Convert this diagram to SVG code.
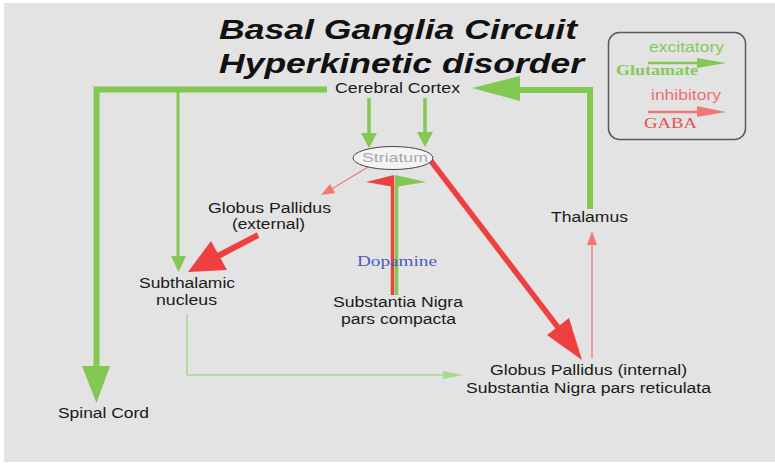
<svg xmlns="http://www.w3.org/2000/svg" width="775" height="467" viewBox="0 0 775 467">
<style>
.t{font-family:"Liberation Sans",Arial,sans-serif;font-size:14px;fill:#1a1a1a;text-anchor:middle}
.title{font-family:"Liberation Sans",Arial,sans-serif;font-size:27px;font-weight:bold;font-style:italic;fill:#111;text-anchor:middle}
.serif{font-family:"Liberation Serif","Times New Roman",serif;font-size:14px;text-anchor:middle}
.g{stroke:#82c852;fill:none}
.gf{fill:#82c852}
.r{stroke:#ee4040;fill:none}
.rf{fill:#ee4040}
.lr{stroke:#f27878;fill:none}
.lrf{fill:#f27878}
.lg{stroke:#a6d98a;fill:none}
.lgf{fill:#a6d98a}
</style>
<rect width="775" height="467" fill="#ffffff"/>
<rect x="4" y="3" width="771" height="459" fill="#e3e3e3"/>

<g id="title">
<text class="title" x="398" y="39" textLength="358" lengthAdjust="spacingAndGlyphs">Basal Ganglia Circuit</text>
<text class="title" x="401.5" y="73" textLength="365" lengthAdjust="spacingAndGlyphs">Hyperkinetic disorder</text>
</g>

<g id="legend">
<rect x="608.5" y="32.5" width="137" height="107" rx="11" fill="none" stroke="#5a5a5a" stroke-width="1.5"/>
<text class="t" x="686.5" y="52" textLength="75" lengthAdjust="spacingAndGlyphs" style="fill:#86c95a">excitatory</text>
<line class="g" x1="648" y1="63" x2="698" y2="63" stroke-width="2.5"/>
<polygon class="gf" points="697,58 726,63 697,68"/>
<text class="serif" x="657" y="75" textLength="82" lengthAdjust="spacingAndGlyphs" style="fill:#86c95a;font-weight:bold">Glutamate</text>
<text class="t" x="686" y="100" textLength="70" lengthAdjust="spacingAndGlyphs" style="fill:#f07070">inhibitory</text>
<line class="lr" x1="648" y1="112" x2="698" y2="112" stroke-width="2.5"/>
<polygon class="lrf" points="697,106 726,112 697,117"/>
<text class="serif" x="670.5" y="128" textLength="53" lengthAdjust="spacingAndGlyphs" style="fill:#e85050">GABA</text>
</g>

<g id="connectors">
<!-- Cortex to Spinal Cord -->
<polyline id="cortex-spinal" class="g" points="327,89.5 96.5,89.5 96.5,368" stroke-width="6"/>
<polygon class="gf" points="82,366 110,366 96.5,403"/>
<!-- Cortex to STN -->
<line id="cortex-stn" class="g" x1="178" y1="89.5" x2="178" y2="258" stroke-width="3"/>
<polygon class="gf" points="171,256 186,256 178.5,272"/>
<!-- Thalamus to Cortex -->
<polyline id="thal-cortex" class="g" points="590,209 590,90 518,90" stroke-width="6"/>
<polygon class="gf" points="520,76 520,101 472,88"/>
<!-- Cortex to Striatum -->
<line class="g" x1="369" y1="98" x2="369" y2="135" stroke-width="3.5"/>
<polygon class="gf" points="361,133 377,133 369,148"/>
<line class="g" x1="425" y1="98" x2="425" y2="135" stroke-width="3.5"/>
<polygon class="gf" points="417,132 433,132 425,147"/>
<!-- Striatum to GPe -->
<line class="lr" x1="368" y1="167" x2="330" y2="190" stroke-width="1.2"/>
<polygon class="lrf" points="321,195 330,184 335,193"/>
<!-- GPe to STN -->
<line class="r" x1="258" y1="235" x2="218" y2="256" stroke-width="6"/>
<polygon class="rf" points="211,241 227,270 188,272"/>
<!-- Striatum to GPi -->
<line class="r" x1="431" y1="161" x2="560" y2="330" stroke-width="5.5"/>
<polygon class="rf" points="569,318 547,335 582,360"/>
<!-- SNc to Striatum -->
<line class="r" x1="392.5" y1="295" x2="392.5" y2="177" stroke-width="3.5"/>
<polygon class="rf" points="366,182 394,175 394,187"/>
<line class="g" x1="396.5" y1="295" x2="396.5" y2="177" stroke-width="3.5"/>
<polygon class="gf" points="395,175 426,182 395,187"/>
<!-- STN to GPi -->
<polyline id="stn-gpi" class="lg" points="187,314 187,375 446,375" stroke-width="1.5"/>
<polygon class="lgf" points="443,371 463,375 443,379"/>
<!-- GPi to Thalamus -->
<line class="lr" x1="592" y1="358" x2="592" y2="244" stroke-width="1.3"/>
<polygon class="lrf" points="587,245 597,245 592,231"/>
</g>

<g id="cortex">
<text class="t" x="397.5" y="93" textLength="125" lengthAdjust="spacingAndGlyphs">Cerebral Cortex</text>
</g>
<g id="striatum">
<ellipse cx="393" cy="158" rx="40" ry="11.5" fill="#f4f4f4" stroke="#444" stroke-width="1"/>
<text class="t" x="395" y="162" textLength="66" lengthAdjust="spacingAndGlyphs" style="fill:#a8a8a8;font-size:13px">Striatum</text>
</g>
<g id="gpe">
<text class="t" x="269.5" y="213" textLength="123" lengthAdjust="spacingAndGlyphs">Globus Pallidus</text>
<text class="t" x="268.5" y="229" textLength="73" lengthAdjust="spacingAndGlyphs">(external)</text>
</g>
<g id="stn">
<text class="t" x="187" y="288" textLength="96" lengthAdjust="spacingAndGlyphs">Subthalamic</text>
<text class="t" x="186.5" y="305" textLength="61" lengthAdjust="spacingAndGlyphs">nucleus</text>
</g>
<g id="snc">
<text class="serif" x="397" y="266" textLength="80" lengthAdjust="spacingAndGlyphs" style="fill:#4a5bc4">Dopamine</text>
<text class="t" x="398" y="307" textLength="130" lengthAdjust="spacingAndGlyphs">Substantia Nigra</text>
<text class="t" x="398.5" y="324" textLength="115" lengthAdjust="spacingAndGlyphs">pars compacta</text>
</g>
<g id="thalamus">
<text class="t" x="589.5" y="222" textLength="77" lengthAdjust="spacingAndGlyphs">Thalamus</text>
</g>
<g id="gpi">
<text class="t" x="588.5" y="375" textLength="197" lengthAdjust="spacingAndGlyphs">Globus Pallidus (internal)</text>
<text class="t" x="588.5" y="393" textLength="245" lengthAdjust="spacingAndGlyphs">Substantia Nigra pars reticulata</text>
</g>
<g id="spinal">
<text class="t" x="103.5" y="418" textLength="91" lengthAdjust="spacingAndGlyphs">Spinal Cord</text>
</g>
</svg>
